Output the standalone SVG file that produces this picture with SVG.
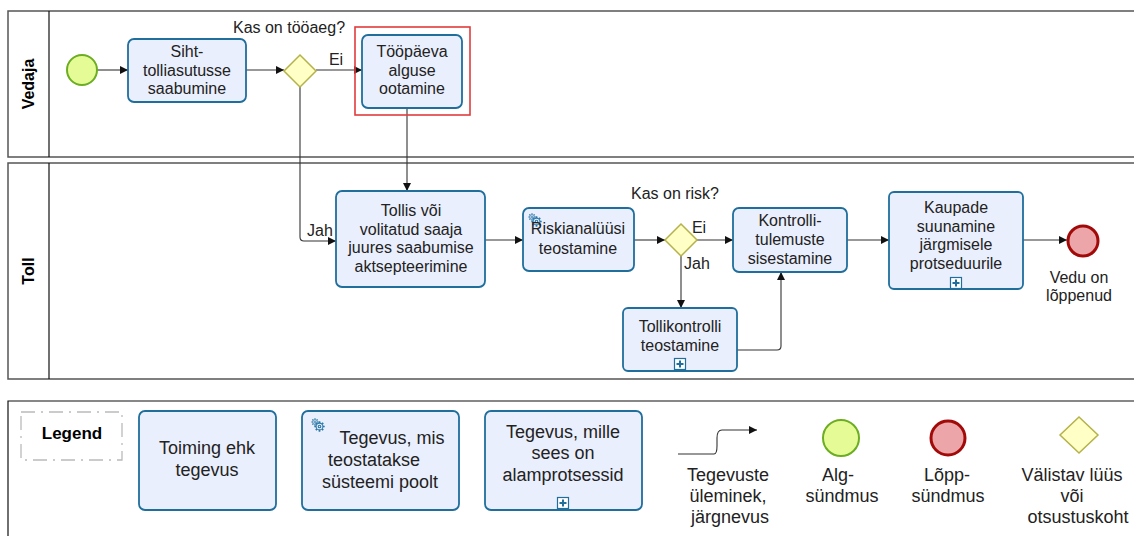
<svg xmlns="http://www.w3.org/2000/svg" width="1134" height="536" viewBox="0 0 1134 536">
  <style>
    text { font-family: "Liberation Sans", Arial, sans-serif; font-size: 16px; fill: #222; text-anchor: middle; }
    .lg { font-size: 18px; }
    .pool { fill: none; stroke: #555; stroke-width: 1.5; }
    .hdr { fill: none; stroke: #111; stroke-width: 1.2; }
    .lane { font-weight: bold; font-size: 16px; fill: #000; }
    .task { fill: #eaeffd; stroke: #1f6e9c; stroke-width: 1.8; }
    .gw { fill: #ffffc6; stroke: #b5b24a; stroke-width: 1.5; }
    .start { fill: #e4fb96; stroke: #6cad22; stroke-width: 2; }
    .end { fill: #eca5a8; stroke: #a20a0a; stroke-width: 3; }
    .flow { fill: none; stroke: #333; stroke-width: 1.1; }
    .sub { fill: #fff; stroke: #1f6e9c; stroke-width: 1.2; }
    .plus { stroke: #1f6e9c; stroke-width: 2; }
    .gear { fill: #eaeffd; stroke: #2a78a8; stroke-width: 1.1; }
    .teeth { fill: none; stroke: #2a78a8; stroke-width: 1.7; }
  </style>
  <defs>
    <marker id="arrow" viewBox="0 0 10 10" refX="10" refY="5" markerWidth="8" markerHeight="8" markerUnits="userSpaceOnUse" orient="auto">
      <path d="M0,0 L10,5 L0,10 z" fill="#111"/>
    </marker>
    <g id="plusbox">
      <rect class="sub" x="-5.5" y="-5.5" width="11" height="11"/>
      <path class="plus" d="M-3.5,0 H3.5 M0,-3.5 V3.5"/>
    </g>
    <!-- one cog: ring, hub and eight teeth -->
    <g id="cog">
      <path class="teeth" d="M3.4,0 H5.2 M-3.4,0 H-5.2 M0,3.4 V5.2 M0,-3.4 V-5.2 M2.4,2.4 L3.7,3.7 M-2.4,2.4 L-3.7,3.7 M-2.4,-2.4 L-3.7,-3.7 M2.4,-2.4 L3.7,-3.7"/>
      <circle class="gear" r="3.4"/>
      <circle class="gear" r="1.3"/>
    </g>
    <!-- service-task marker: two overlapping cogs -->
    <g id="gearicon">
      <use href="#cog" transform="translate(-3,-3) scale(0.7)"/>
      <use href="#cog" transform="translate(1.5,1.5)"/>
    </g>
  </defs>

  <rect width="1134" height="536" fill="#fff"/>

  <!-- pools and lanes -->
  <g id="pool-vedaja">
    <rect class="pool" x="8" y="11" width="1140" height="146"/>
    <line class="hdr" x1="49" y1="11" x2="49" y2="157"/>
    <text class="lane" transform="translate(34,84) rotate(-90)">Vedaja</text>
  </g>
  <g id="pool-toll">
    <rect class="pool" x="8" y="163" width="1140" height="216"/>
    <line class="hdr" x1="49" y1="163" x2="49" y2="379"/>
    <text class="lane" transform="translate(34,271) rotate(-90)">Toll</text>
  </g>

  <!-- connectors -->
  <g id="connectors">
    <path class="flow" d="M97,70 H128" marker-end="url(#arrow)"/>
    <path class="flow" d="M246,70 H284" marker-end="url(#arrow)"/>
    <path class="flow" d="M316,70 H362" marker-end="url(#arrow)"/>
    <path class="flow" d="M300,86 V237 Q300,241 304,241 H336" marker-end="url(#arrow)"/>
    <path class="flow" d="M407,108 V191" marker-end="url(#arrow)"/>
    <path class="flow" d="M485,240 H523" marker-end="url(#arrow)"/>
    <path class="flow" d="M634,240 H665" marker-end="url(#arrow)"/>
    <path class="flow" d="M697,240 H733" marker-end="url(#arrow)"/>
    <path class="flow" d="M681,256 V308" marker-end="url(#arrow)"/>
    <path class="flow" d="M737,350 H777 Q781,350 781,346 V272" marker-end="url(#arrow)"/>
    <path class="flow" d="M847,240 H889" marker-end="url(#arrow)"/>
    <path class="flow" d="M1023,240 H1067" marker-end="url(#arrow)"/>
    <text x="289" y="33">Kas on tööaeg?</text>
    <text x="336" y="65">Ei</text>
    <text x="320" y="236">Jah</text>
    <text x="675" y="199">Kas on risk?</text>
    <text x="699" y="233">Ei</text>
    <text x="697" y="269">Jah</text>
  </g>

  <!-- Vedaja lane -->
  <g id="start">
    <circle class="start" cx="82" cy="70" r="15"/>
  </g>
  <g id="task-saabumine">
    <rect class="task" x="128" y="39" width="118" height="63" rx="6"/>
    <text x="187" y="57">Siht-</text>
    <text x="187" y="75.5">tolliasutusse</text>
    <text x="187" y="94">saabumine</text>
  </g>
  <g id="gw-tooaeg">
    <path class="gw" d="M300,55 L316,71 L300,87 L284,71 z"/>
  </g>
  <g id="task-ootamine">
    <rect x="355" y="27" width="115" height="88" fill="none" stroke="#e23b3b" stroke-width="1.6"/>
    <rect class="task" x="362" y="35" width="100" height="73" rx="6"/>
    <text x="412" y="57">Tööpäeva</text>
    <text x="412" y="75.5">alguse</text>
    <text x="412" y="94">ootamine</text>
  </g>

  <!-- Toll lane -->
  <g id="task-aktsepteerimine">
    <rect class="task" x="336" y="191" width="149" height="96" rx="6"/>
    <text x="411" y="216">Tollis või</text>
    <text x="411" y="234.5">volitatud saaja</text>
    <text x="411" y="253">juures saabumise</text>
    <text x="411" y="271.5">aktsepteerimine</text>
  </g>
  <g id="task-riskianalyys">
    <rect class="task" x="523" y="208" width="111" height="63" rx="6"/>
    <use href="#gearicon" x="535" y="220"/>
    <text x="578" y="234">Riskianalüüsi</text>
    <text x="578" y="254">teostamine</text>
  </g>
  <g id="gw-risk">
    <path class="gw" d="M681,224 L697,240 L681,256 L665,240 z"/>
  </g>
  <g id="task-kontroll">
    <rect class="task" x="623" y="308" width="114" height="63" rx="5"/>
    <text x="680" y="332">Tollikontrolli</text>
    <text x="680" y="351">teostamine</text>
    <use href="#plusbox" x="680" y="364"/>
  </g>
  <g id="task-sisestamine">
    <rect class="task" x="733" y="208" width="114" height="64" rx="6"/>
    <text x="790" y="226">Kontrolli-</text>
    <text x="790" y="245">tulemuste</text>
    <text x="790" y="264">sisestamine</text>
  </g>
  <g id="task-suunamine">
    <rect class="task" x="889" y="192" width="134" height="97" rx="5"/>
    <text x="956" y="213">Kaupade</text>
    <text x="956" y="231.5">suunamine</text>
    <text x="956" y="250">järgmisele</text>
    <text x="956" y="268.5">protseduurile</text>
    <use href="#plusbox" x="956" y="283"/>
  </g>
  <g id="end">
    <circle class="end" cx="1083" cy="241" r="15"/>
    <text x="1079" y="282.5">Vedu on</text>
    <text x="1079" y="301">lõppenud</text>
  </g>

  <!-- legend -->
  <g id="legend">
    <path d="M8,536 V401 H1140" fill="none" stroke="#111" stroke-width="1.2"/>
    <rect x="21" y="412" width="101" height="48" fill="none" stroke="#bbb" stroke-width="1.3" stroke-dasharray="14 6 2 6"/>
    <text x="72" y="439" style="font-weight:bold;font-size:17px;fill:#000">Legend</text>
  </g>
  <g id="legend-task">
    <rect class="task" x="139" y="411" width="137" height="99" rx="6"/>
    <text class="lg" x="207" y="454">Toiming ehk</text>
    <text class="lg" x="207" y="476">tegevus</text>
  </g>
  <g id="legend-service-task">
    <rect class="task" x="302" y="411" width="157" height="99" rx="6"/>
    <use href="#gearicon" x="318" y="425"/>
    <text class="lg" x="392" y="444">Tegevus, mis</text>
    <text class="lg" x="374" y="466">teostatakse</text>
    <text class="lg" x="380" y="488">süsteemi poolt</text>
  </g>
  <g id="legend-subprocess">
    <rect class="task" x="485" y="411" width="157" height="99" rx="6"/>
    <text class="lg" x="563" y="438">Tegevus, mille</text>
    <text class="lg" x="563" y="459">sees on</text>
    <text class="lg" x="563" y="481">alamprotsessid</text>
    <use href="#plusbox" x="563" y="503"/>
  </g>
  <g id="legend-flow">
    <path class="flow" d="M678,454 H714 Q717,454 717,446 V438 Q717,430 722,430 H757" marker-end="url(#arrow)"/>
    <text class="lg" x="728" y="481">Tegevuste</text>
    <text class="lg" x="728" y="502">üleminek,</text>
    <text class="lg" x="730" y="523">järgnevus</text>
  </g>
  <g id="legend-start">
    <circle class="start" cx="841" cy="438" r="18"/>
    <text class="lg" x="838" y="481">Alg-</text>
    <text class="lg" x="842" y="502">sündmus</text>
  </g>
  <g id="legend-end">
    <circle class="end" cx="948" cy="438" r="17"/>
    <text class="lg" x="947" y="481">Lõpp-</text>
    <text class="lg" x="948" y="502">sündmus</text>
  </g>
  <g id="legend-gateway">
    <path class="gw" d="M1079,417 L1098,435 L1079,453 L1060,435 z"/>
    <text class="lg" x="1072" y="481">Välistav lüüs</text>
    <text class="lg" x="1072" y="502">või</text>
    <text class="lg" x="1078" y="523">otsustuskoht</text>
  </g>
</svg>
